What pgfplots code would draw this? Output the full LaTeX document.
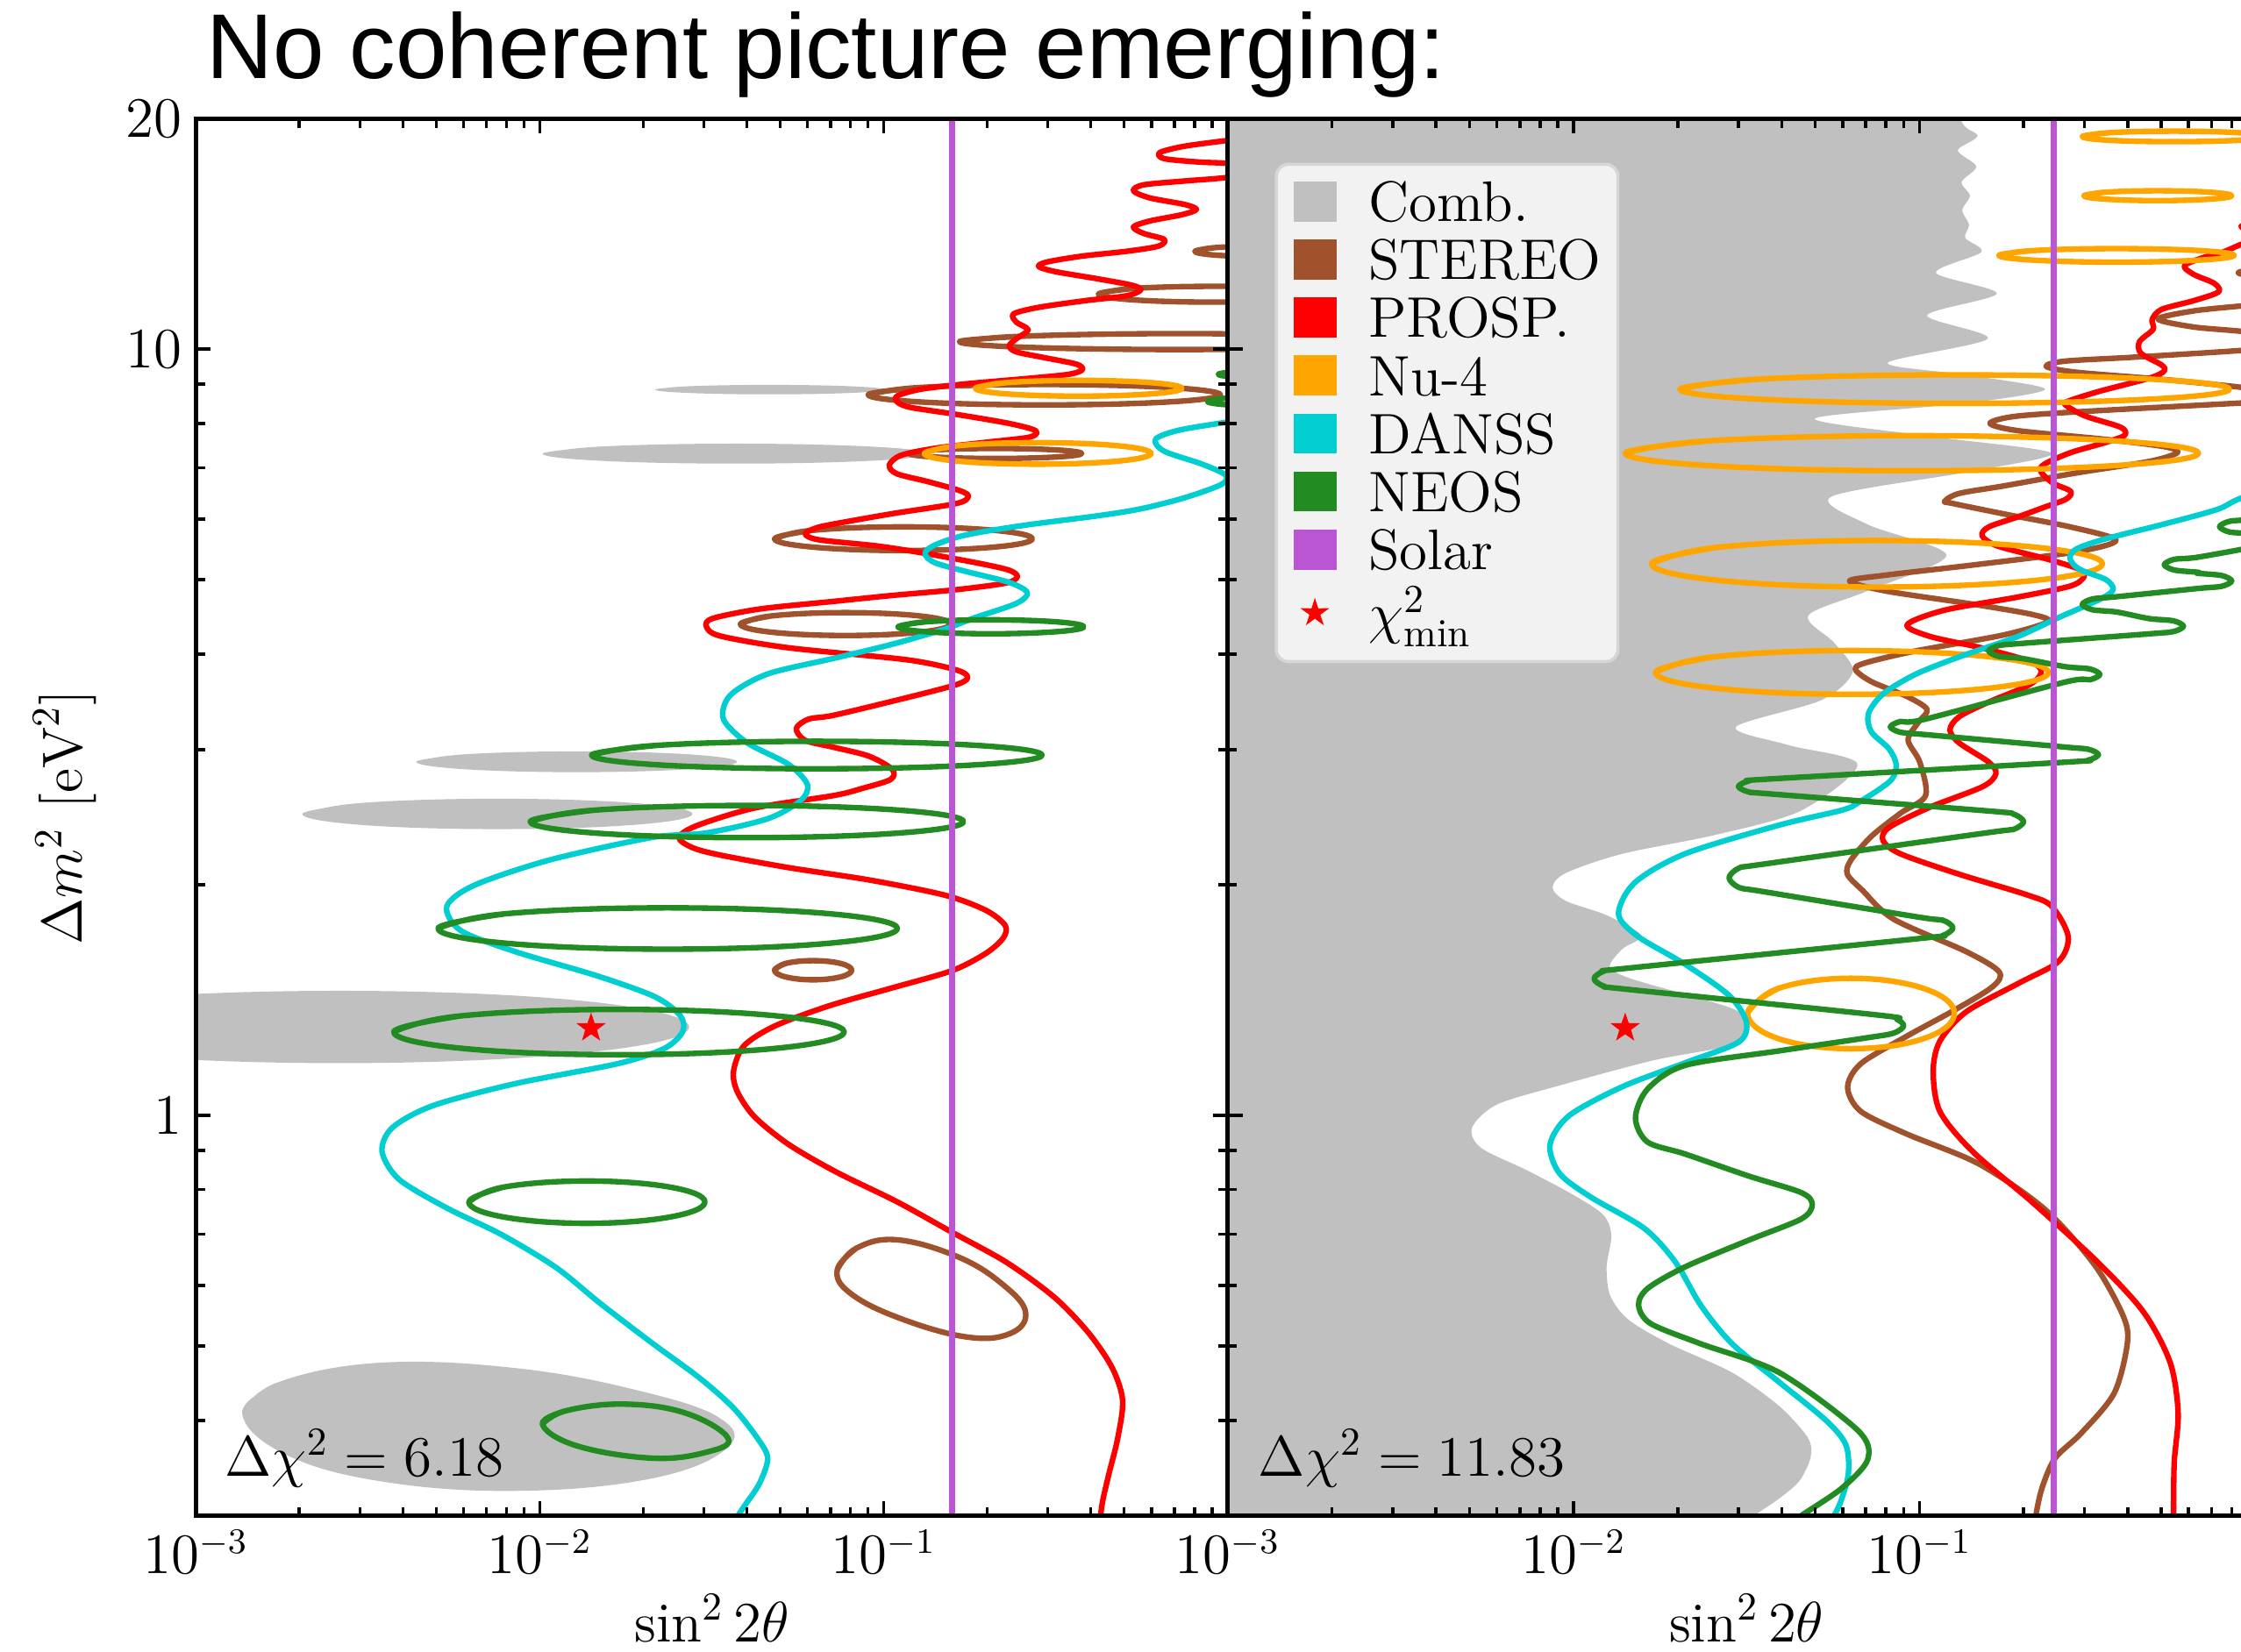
\documentclass[border=0pt]{standalone}
\usepackage{fontspec}
\newfontfamily\titlefont{Liberation Sans}
\usepackage{pgfplots}
\pgfplotsset{compat=1.18}

\definecolor{comb}{HTML}{C0C0C0}
\definecolor{stereo}{HTML}{A0522D}
\definecolor{prosp}{HTML}{FF0000}
\definecolor{nufour}{HTML}{FFA500}
\definecolor{danss}{HTML}{00CED1}
\definecolor{neos}{HTML}{228B22}
\definecolor{solar}{HTML}{BA55D3}
\definecolor{legfill}{HTML}{F2F2F2}
\definecolor{legedge}{HTML}{D6D6D6}

% filled five-pointed star for the best-fit point
\pgfdeclareplotmark{fstar}{%
  \pgfpathmoveto{\pgfqpoint{0pt}{3.9pt}}%
  \pgfpathlineto{\pgfqpoint{-0.911pt}{1.254pt}}%
  \pgfpathlineto{\pgfqpoint{-3.709pt}{1.205pt}}%
  \pgfpathlineto{\pgfqpoint{-1.474pt}{-0.479pt}}%
  \pgfpathlineto{\pgfqpoint{-2.292pt}{-3.155pt}}%
  \pgfpathlineto{\pgfqpoint{0pt}{-1.55pt}}%
  \pgfpathlineto{\pgfqpoint{2.292pt}{-3.155pt}}%
  \pgfpathlineto{\pgfqpoint{1.474pt}{-0.479pt}}%
  \pgfpathlineto{\pgfqpoint{3.709pt}{1.205pt}}%
  \pgfpathlineto{\pgfqpoint{0.911pt}{1.254pt}}%
  \pgfpathclose\pgfusepathqfill}

\pgfplotsset{
  every axis/.append style={
    scale only axis,
    axis line style={line width=1.1pt},
    tick align=inside,
    major tick length=3.8pt, minor tick length=2.3pt,
    tick style={black, line width=0.8pt},
    tick label style={font=\fontsize{13.5}{16}\selectfont},
    label style={font=\fontsize{14.2}{17}\selectfont},
  },
  every axis plot/.append style={line width=1.4pt, line join=round},
  ell/.style={smooth, tension=0.68},
  wig/.style={smooth, tension=0.5},
}

\begin{document}
\begin{tikzpicture}
\useasboundingbox (0,0) rectangle (564.48pt,416.16pt);
\clip (0,0) rectangle (564.48pt,416.16pt);

% ---------------- left panel: Delta chi^2 = 6.18 ----------------
\begin{axis}[xmode=log, ymode=log,
  at={(49.32pt,34.2pt)}, anchor=south west,
  width=259.92pt, height=352.08pt,
  xmin=1e-3, xmax=1, ymin=0.3, ymax=20,
  axis on top,
  xtick pos=both, ytick pos=both,
  xtick={0.001,0.01,0.1,1},
  xticklabels={$10^{-3}$,$10^{-2}$,$10^{-1}$,{}},
  minor xtick={0.002,0.003,0.004,0.005,0.006,0.007,0.008,0.009,0.02,0.03,0.04,0.05,0.06,0.07,0.08,0.09,0.2,0.3,0.4,0.5,0.6,0.7,0.8,0.9},
  ytick={1,10,20},
  minor ytick={0.4,0.5,0.6,0.7,0.8,0.9,2,3,4,5,6,7,8,9},
  yticklabels={$1$,$10$,$20$},
  xlabel={$\sin^2 2\theta$},
  xlabel style={at={(axis description cs:0.5,-0.090)}, anchor=base},
  ylabel={$\Delta m^2\ [\mathrm{eV}^2]$},
  ylabel style={at={(axis description cs:-0.127,0.5)}, anchor=center}]

% Comb.
\addplot[comb, fill=comb, draw=none, ell] coordinates {(0.02164,8.857) (0.02708,8.947) (0.04652,8.984) (0.07991,8.947) (0.1,8.857) (0.07991,8.768) (0.04652,8.732) (0.02708,8.768) (0.02164,8.857) (0.02708,8.947)};
\addplot[comb, fill=comb, draw=none, ell] coordinates {(0.01019,7.306) (0.01488,7.463) (0.03707,7.529) (0.09239,7.463) (0.1349,7.306) (0.09239,7.153) (0.03707,7.091) (0.01488,7.153) (0.01019,7.306) (0.01488,7.463)};
\addplot[comb, fill=comb, draw=none, ell] coordinates {(0.004374,2.894) (0.005989,2.959) (0.0128,2.986) (0.02733,2.959) (0.03745,2.894) (0.02733,2.831) (0.0128,2.805) (0.005989,2.831) (0.004374,2.894) (0.005989,2.959)};
\addplot[comb, fill=comb, draw=none, ell] coordinates {(0.002039,2.474) (0.00299,2.556) (0.007531,2.590) (0.01897,2.556) (0.0278,2.474) (0.01897,2.395) (0.007531,2.364) (0.00299,2.395) (0.002039,2.474) (0.00299,2.556)};
\addplot[comb, fill=comb, draw=none, ell] coordinates {(0.0002512,1.304) (0.000499,1.409) (0.002614,1.454) (0.01369,1.409) (0.02719,1.304) (0.01369,1.208) (0.002614,1.170) (0.000499,1.208) (0.0002512,1.304) (0.000499,1.409)};
\addplot[comb, fill=comb, draw=none, ell] coordinates {(0.001364,0.4088) (0.001714,0.4475) (0.003401,0.4754) (0.00848,0.468) (0.01931,0.4375) (0.0334,0.4026) (0.03497,0.3677) (0.02115,0.3358) (0.00848,0.3235) (0.003401,0.3333) (0.001795,0.3622) (0.001364,0.4088) (0.001714,0.4475)};

% STEREO
\addplot[stereo, ell] coordinates {(0.803,13.42) (0.918,13.57) (1.266,13.63) (1.746,13.57) (1.995,13.42) (1.746,13.27) (1.266,13.21) (0.918,13.27) (0.803,13.42) (0.918,13.57)};
\addplot[stereo, ell] coordinates {(0.4209,11.80) (0.5288,12.00) (0.9165,12.08) (1.589,12.00) (1.995,11.80) (1.589,11.60) (0.9165,11.52) (0.5288,11.60) (0.4209,11.80) (0.5288,12.00)};
\addplot[stereo, ell] coordinates {(0.166,10.23) (0.2557,10.40) (0.7245,10.48) (2.053,10.40) (3.162,10.23) (2.053,10.06) (0.7245,9.99) (0.2557,10.06) (0.166,10.23) (0.2557,10.40)};
\addplot[stereo, ell] coordinates {(0.09013,8.721) (0.1273,8.913) (0.2929,8.993) (0.6743,8.913) (0.9524,8.721) (0.6743,8.535) (0.2929,8.459) (0.1273,8.535) (0.09013,8.721) (0.1273,8.913)};
\addplot[stereo, ell] coordinates {(0.1186,7.311) (0.1404,7.389) (0.2112,7.421) (0.3178,7.389) (0.3765,7.311) (0.3178,7.234) (0.2112,7.202) (0.1404,7.234) (0.1186,7.311) (0.1404,7.389)};
\addplot[stereo, ell] coordinates {(0.04815,5.657) (0.06197,5.802) (0.1141,5.863) (0.2101,5.802) (0.2704,5.657) (0.2101,5.518) (0.1141,5.461) (0.06197,5.518) (0.04815,5.657) (0.06197,5.802)};
\addplot[stereo, ell] coordinates {(0.03832,4.378) (0.04709,4.486) (0.07745,4.531) (0.1274,4.486) (0.1565,4.378) (0.1274,4.273) (0.07745,4.230) (0.04709,4.273) (0.03832,4.378) (0.04709,4.486)};
\addplot[stereo, ell] coordinates {(0.04815,1.547) (0.05192,1.579) (0.06233,1.592) (0.07482,1.579) (0.0807,1.547) (0.07482,1.516) (0.06233,1.503) (0.05192,1.516) (0.04815,1.547) (0.05192,1.579)};
\addplot[stereo, ell] coordinates {(0.0733,0.629) (0.0833,0.671) (0.1096,0.688) (0.1653,0.653) (0.2225,0.601) (0.2586,0.553) (0.2328,0.519) (0.1730,0.514) (0.1096,0.545) (0.0796,0.587) (0.0733,0.629) (0.0833,0.671)};

% PROSP.
\addplot[prosp, wig] coordinates {(1.109,18.86) (1.006,18.74) (0.750,18.41) (0.635,18.06) (0.654,17.73) (0.827,17.55) (1.006,17.47) (1.223,17.17) (1.006,16.77) (0.750,16.58) (0.570,16.39) (0.532,16.10) (0.593,15.76) (0.750,15.45) (0.811,15.22) (0.735,14.98) (0.593,14.70) (0.532,14.44) (0.570,14.16) (0.654,13.91) (0.629,13.63) (0.507,13.42) (0.378,13.23) (0.299,13.00) (0.282,12.82) (0.317,12.62) (0.417,12.36) (0.527,12.12) (0.559,11.95) (0.507,11.74) (0.385,11.57) (0.282,11.34) (0.2385,11.12) (0.243,10.85) (0.263,10.60) (0.243,10.32) (0.2316,10.10) (0.243,9.92) (0.293,9.75) (0.3635,9.56) (0.378,9.40) (0.343,9.27) (0.2555,9.15) (0.1727,9.01) (0.1287,8.87) (0.110,8.70) (0.109,8.55) (0.119,8.40) (0.1628,8.22) (0.2316,8.00) (0.2763,7.83) (0.2657,7.68) (0.198,7.56) (0.142,7.43) (0.1122,7.27) (0.1038,7.06) (0.109,6.88) (0.1339,6.72) (0.166,6.54) (0.1762,6.43) (0.1628,6.29) (0.1058,6.10) (0.0716,5.914) (0.0633,5.84) (0.0591,5.74) (0.0648,5.64) (0.0960,5.535) (0.1313,5.416) (0.1905,5.252) (0.2316,5.147) (0.2446,5.049) (0.2271,4.953) (0.1628,4.855) (0.1058,4.771) (0.0716,4.687) (0.04395,4.583) (0.0319,4.454) (0.0305,4.348) (0.0334,4.225) (0.0528,4.077) (0.1167,3.933) (0.1628,3.814) (0.1754,3.731) (0.1628,3.650) (0.1167,3.509) (0.0716,3.329) (0.0605,3.291) (0.0557,3.199) (0.0591,3.087) (0.0716,3.023) (0.0905,2.944) (0.1058,2.830) (0.1048,2.745) (0.0870,2.673) (0.0716,2.615) (0.0420,2.518) (0.0285,2.387) (0.0254,2.304) (0.0278,2.236) (0.0334,2.187) (0.0528,2.106) (0.0913,2.028) (0.1509,1.938) (0.1984,1.852) (0.2255,1.770) (0.2225,1.704) (0.1984,1.628) (0.1579,1.545) (0.1047,1.465) (0.0694,1.390) (0.0482,1.308) (0.0392,1.232) (0.0366,1.142) (0.0375,1.075) (0.0420,0.997) (0.0528,0.917) (0.0726,0.844) (0.1096,0.771) (0.1579,0.704) (0.2275,0.643) (0.3133,0.579) (0.3937,0.5205) (0.462,0.468) (0.495,0.4245) (0.479,0.379) (0.452,0.341) (0.4315,0.311) (0.4217,0.284)};

% Nu-4
\addplot[nufour, ell] coordinates {(0.1849,8.892) (0.2263,9.043) (0.3687,9.106) (0.6006,9.043) (0.7355,8.892) (0.6006,8.745) (0.3687,8.685) (0.2263,8.745) (0.1849,8.892) (0.2263,9.043)};
\addplot[nufour, ell] coordinates {(0.1313,7.311) (0.1639,7.482) (0.2804,7.552) (0.4795,7.482) (0.5988,7.311) (0.4795,7.145) (0.2804,7.079) (0.1639,7.145) (0.1313,7.311) (0.1639,7.482)};

% DANSS
\addplot[danss, wig] coordinates {(1.223,8.17) (1.006,8.04) (0.721,7.84) (0.617,7.63) (0.654,7.36) (0.843,7.08) (0.986,6.85) (0.958,6.66) (0.750,6.40) (0.559,6.19) (0.417,6.06) (0.2555,5.89) (0.1727,5.72) (0.1406,5.55) (0.1318,5.41) (0.1406,5.266) (0.1727,5.13) (0.2316,4.962) (0.2615,4.812) (0.243,4.658) (0.1831,4.459) (0.1506,4.313) (0.1058,4.120) (0.0716,3.950) (0.0460,3.769) (0.0358,3.535) (0.0342,3.291) (0.0401,3.064) (0.0528,2.873) (0.0600,2.703) (0.0573,2.575) (0.0460,2.439) (0.0305,2.337) (0.02115,2.305) (0.01066,2.154) (0.00645,1.997) (0.00537,1.875) (0.00589,1.743) (0.00848,1.636) (0.01468,1.521) (0.02164,1.428) (0.02563,1.349) (0.0260,1.285) (0.02296,1.222) (0.01684,1.168) (0.00848,1.100) (0.00490,1.030) (0.00373,0.964) (0.00348,0.897) (0.00390,0.825) (0.00537,0.757) (0.00774,0.699) (0.01116,0.633) (0.01502,0.568) (0.02115,0.505) (0.02912,0.4544) (0.0366,0.415) (0.04295,0.379) (0.0460,0.357) (0.04355,0.331) (0.03973,0.311) (0.03627,0.293)};

% NEOS
\addplot[neos, ell] coordinates {(0.1101,4.342) (0.1320,4.407) (0.2049,4.434) (0.3181,4.407) (0.3816,4.342) (0.3181,4.279) (0.2049,4.252) (0.1320,4.279) (0.1101,4.342) (0.1320,4.407)};
\addplot[neos, ell] coordinates {(0.01415,2.953) (0.0220,3.041) (0.0639,3.078) (0.1855,3.041) (0.2886,2.953) (0.1855,2.868) (0.0639,2.834) (0.0220,2.868) (0.01415,2.953) (0.0220,3.041)};
\addplot[neos, ell] coordinates {(0.00938,2.418) (0.01434,2.502) (0.0400,2.538) (0.1116,2.502) (0.1707,2.418) (0.1116,2.337) (0.0400,2.304) (0.01434,2.337) (0.00938,2.418) (0.01434,2.502)};
\addplot[neos, ell] coordinates {(0.00506,1.754) (0.00794,1.833) (0.02355,1.866) (0.0698,1.833) (0.1096,1.754) (0.0698,1.678) (0.02355,1.648) (0.00794,1.678) (0.00506,1.754) (0.00794,1.833)};
\addplot[neos, ell] coordinates {(0.003762,1.285) (0.005851,1.348) (0.01699,1.375) (0.04933,1.348) (0.07674,1.285) (0.04933,1.224) (0.01699,1.200) (0.005851,1.224) (0.003762,1.285) (0.005851,1.348)};
\addplot[neos, ell] coordinates {(0.006219,0.771) (0.00784,0.806) (0.01371,0.821) (0.02397,0.806) (0.03021,0.771) (0.02397,0.737) (0.01371,0.723) (0.00784,0.737) (0.006219,0.771) (0.00784,0.806)};
\addplot[neos, ell] coordinates {(0.01018,0.3954) (0.01195,0.4117) (0.01762,0.4199) (0.02659,0.4086) (0.03528,0.379) (0.0305,0.3634) (0.02115,0.357) (0.0128,0.3705) (0.01018,0.3954) (0.01195,0.4117)};
\addplot[neos, ell] coordinates {(0.9393,9.275) (1.049,9.350) (1.369,9.383) (1.787,9.350) (1.995,9.275) (1.787,9.200) (1.369,9.168) (1.049,9.200) (0.9393,9.275) (1.049,9.350)};
\addplot[neos, ell] coordinates {(0.8736,8.547) (0.9858,8.630) (1.320,8.666) (1.768,8.630) (1.995,8.547) (1.768,8.465) (1.320,8.430) (0.9858,8.465) (0.8736,8.547) (0.9858,8.630)};

% Solar
\addplot[solar, line width=1.6pt] coordinates {(0.158,0.3) (0.158,20)};
% chi^2 min
\addplot[only marks, mark=fstar, prosp] coordinates {(0.0141,1.30)};
\end{axis}

% ---------------- right panel: Delta chi^2 = 11.83 ----------------
\begin{axis}[xmode=log, ymode=log,
  at={(309.24pt,34.2pt)}, anchor=south west,
  width=261.36pt, height=352.08pt,
  xmin=1e-3, xmax=1, ymin=0.3, ymax=20,
  axis on top,
  xtick pos=both, ytick pos=both,
  xtick={0.001,0.01,0.1,1},
  xticklabels={$10^{-3}$,$10^{-2}$,$10^{-1}$,{}},
  minor xtick={0.002,0.003,0.004,0.005,0.006,0.007,0.008,0.009,0.02,0.03,0.04,0.05,0.06,0.07,0.08,0.09,0.2,0.3,0.4,0.5,0.6,0.7,0.8,0.9},
  ytick={1,10,20},
  minor ytick={0.4,0.5,0.6,0.7,0.8,0.9,2,3,4,5,6,7,8,9},
  yticklabels={,,},
  xlabel={$\sin^2 2\theta$},
  xlabel style={at={(axis description cs:0.5,-0.090)}, anchor=base}]

% Comb.
\addplot[comb, fill=comb, draw=none, wig] coordinates {(0.0005,25) (0.1317,25) (0.1317,20.0) (0.1472,18.99) (0.1291,18.18) (0.1460,17.32) (0.1324,16.53) (0.1399,15.86) (0.1330,15.19) (0.1391,14.53) (0.1356,13.97) (0.1509,13.39) (0.1116,12.58) (0.1674,11.82) (0.1052,11.07) (0.1575,10.32) (0.0809,9.60) (0.1365,9.26) (0.2309,8.869) (0.1365,8.50) (0.0498,8.12) (0.1096,7.69) (0.2412,7.316) (0.1365,6.91) (0.0556,6.42) (0.0708,5.906) (0.1197,5.383) (0.0708,4.837) (0.0477,4.491) (0.0568,4.135) (0.0642,3.796) (0.0521,3.484) (0.02944,3.213) (0.0418,3.043) (0.0662,2.873) (0.0455,2.499) (0.0259,2.325) (0.01384,2.195) (0.0095,2.072) (0.0087,1.984) (0.0095,1.905) (0.01246,1.825) (0.01569,1.718) (0.01384,1.649) (0.01273,1.564) (0.01442,1.512) (0.0210,1.439) (0.02937,1.373) (0.03192,1.305) (0.02875,1.236) (0.01705,1.180) (0.00911,1.094) (0.0060,1.033) (0.00509,0.964) (0.0054,0.907) (0.00739,0.8465) (0.01011,0.785) (0.01221,0.741) (0.01286,0.697) (0.01246,0.634) (0.01277,0.5815) (0.01442,0.5411) (0.01892,0.5033) (0.02875,0.4616) (0.03935,0.4173) (0.0475,0.380) (0.04849,0.3585) (0.04506,0.3337) (0.03935,0.3163) (0.03328,0.3003) (0.02936,0.2867) (0.02,0.27) (0.0005,0.27)};

% STEREO
\addplot[stereo, wig] coordinates {(1.114,12.91) (0.835,12.58) (1.114,12.25) (1.114,11.51) (0.8564,11.39) (0.6208,11.22) (0.4895,10.95) (0.6208,10.69) (0.8564,10.55) (1.114,10.37) (1.114,10.10) (0.8564,9.965) (0.4202,9.765) (0.2631,9.647) (0.2326,9.495) (0.2844,9.331) (0.5107,9.129) (0.8564,8.915) (1.114,8.737) (1.114,8.584) (0.8564,8.509) (0.3457,8.325) (0.1926,8.181) (0.16,8.004) (0.1926,7.830) (0.3457,7.627) (0.5107,7.461) (0.5576,7.331) (0.4634,7.141) (0.2844,6.895) (0.1747,6.629) (0.1304,6.484) (0.1183,6.333) (0.1254,6.288) (0.1747,6.098) (0.2736,5.861) (0.3701,5.633) (0.2844,5.440) (0.1438,5.230) (0.0801,5.072) (0.0628,4.983) (0.0801,4.834) (0.1438,4.645) (0.2123,4.505) (0.2350,4.408) (0.1747,4.236) (0.0973,4.037) (0.0698,3.897) (0.0653,3.820) (0.0726,3.683) (0.0918,3.524) (0.1052,3.388) (0.0992,3.257) (0.0927,3.090) (0.1002,2.892) (0.1042,2.615) (0.0883,2.481) (0.0726,2.313) (0.0633,2.152) (0.0619,2.064) (0.0685,1.966) (0.0843,1.803) (0.1365,1.636) (0.1699,1.540) (0.1627,1.472) (0.1251,1.369) (0.0920,1.269) (0.0677,1.168) (0.0620,1.088) (0.0677,1.012) (0.0920,0.9454) (0.1490,0.8636) (0.2309,0.7536) (0.3208,0.6383) (0.3873,0.5487) (0.3993,0.5048) (0.3658,0.4341) (0.2938,0.3849) (0.2466,0.3568) (0.2259,0.3258) (0.2163,0.2976) (0.214,0.28)};

% PROSP.
\addplot[prosp, wig] coordinates {(1.114,14.85) (0.8514,14.47) (1.011,14.09) (0.8564,13.72) (0.7546,13.39) (0.6578,13.16) (0.5833,12.85) (0.6208,12.52) (0.7114,12.19) (0.7326,11.88) (0.6208,11.57) (0.5008,11.27) (0.4707,10.93) (0.4742,10.62) (0.4327,10.23) (0.4369,9.879) (0.5008,9.539) (0.5107,9.372) (0.4634,9.170) (0.3325,8.816) (0.2710,8.564) (0.2642,8.460) (0.3016,8.181) (0.3812,7.913) (0.3925,7.727) (0.3457,7.558) (0.2736,7.330) (0.2296,7.078) (0.2243,6.925) (0.2433,6.687) (0.2736,6.525) (0.2657,6.374) (0.2296,6.220) (0.1926,6.042) (0.1585,5.861) (0.1518,5.709) (0.1680,5.537) (0.2340,5.322) (0.2901,5.161) (0.2992,5.049) (0.2736,4.909) (0.1926,4.748) (0.1183,4.565) (0.0921,4.369) (0.1073,4.218) (0.1524,4.072) (0.2083,3.915) (0.2252,3.796) (0.2083,3.650) (0.1585,3.463) (0.1303,3.314) (0.1225,3.186) (0.1303,3.063) (0.1585,2.892) (0.1664,2.793) (0.1524,2.686) (0.1073,2.525) (0.0816,2.375) (0.0785,2.283) (0.0883,2.194) (0.1303,2.064) (0.2042,1.941) (0.2412,1.875) (0.2692,1.712) (0.2521,1.587) (0.1938,1.488) (0.1365,1.365) (0.1146,1.250) (0.1096,1.142) (0.1146,1.012) (0.1425,0.897) (0.2116,0.771) (0.3280,0.643) (0.4455,0.553) (0.5310,0.4755) (0.5597,0.4088) (0.5452,0.3514) (0.5427,0.2976) (0.542,0.28)};

% Nu-4
\addplot[nufour, ell] coordinates {(0.2958,18.95) (0.3535,19.17) (0.5438,19.26) (0.8366,19.17) (1.0,18.95) (0.8366,18.74) (0.5438,18.66) (0.3535,18.74) (0.2958,18.95) (0.3535,19.17)};
\addplot[nufour, ell] coordinates {(0.2987,15.86) (0.345,16.03) (0.489,16.10) (0.6923,16.03) (0.7998,15.86) (0.6923,15.70) (0.489,15.63) (0.345,15.70) (0.2987,15.86) (0.345,16.03)};
\addplot[nufour, ell] coordinates {(0.1697,13.26) (0.2134,13.45) (0.3713,13.53) (0.6459,13.45) (0.8124,13.26) (0.6459,13.07) (0.3713,12.99) (0.2134,13.07) (0.1697,13.26) (0.2134,13.45)};
\addplot[nufour, ell] coordinates {(0.02029,8.869) (0.03468,9.143) (0.1264,9.258) (0.4608,9.143) (0.7875,8.869) (0.4608,8.604) (0.1264,8.498) (0.03468,8.604) (0.02029,8.869) (0.03468,9.143)};
\addplot[nufour, ell] coordinates {(0.0141,7.316) (0.02467,7.594) (0.09508,7.712) (0.3664,7.594) (0.641,7.316) (0.3664,7.048) (0.09508,6.94) (0.02467,7.048) (0.0141,7.316) (0.02467,7.594)};
\addplot[nufour, ell] coordinates {(0.0168,5.248) (0.02609,5.514) (0.07539,5.628) (0.2178,5.514) (0.3381,5.248) (0.2178,4.994) (0.07539,4.893) (0.02609,4.994) (0.0168,5.248) (0.02609,5.514)};
\addplot[nufour, ell] coordinates {(0.01725,3.786) (0.02531,3.966) (0.06381,4.043) (0.1609,3.966) (0.236,3.786) (0.1609,3.613) (0.06381,3.545) (0.02531,3.613) (0.01725,3.786) (0.02531,3.966)};
\addplot[nufour, ell] coordinates {(0.03186,1.359) (0.03898,1.464) (0.06339,1.510) (0.1031,1.464) (0.1262,1.359) (0.1031,1.260) (0.06339,1.222) (0.03898,1.260) (0.03186,1.359) (0.03898,1.464)};

% DANSS
\addplot[danss, wig] coordinates {(1.354,6.865) (0.8564,6.40) (0.7257,6.178) (0.5107,5.914) (0.3457,5.657) (0.2844,5.487) (0.2725,5.331) (0.2901,5.162) (0.3457,5.005) (0.3631,4.854) (0.3324,4.716) (0.2531,4.466) (0.1926,4.218) (0.1303,3.967) (0.0973,3.764) (0.0785,3.549) (0.0712,3.344) (0.0726,3.167) (0.0816,3.010) (0.0857,2.868) (0.0824,2.733) (0.0672,2.566) (0.0598,2.503) (0.0394,2.393) (0.0210,2.195) (0.01504,2.013) (0.01349,1.832) (0.01536,1.712) (0.0210,1.575) (0.02816,1.434) (0.03159,1.324) (0.02997,1.246) (0.0210,1.171) (0.01384,1.090) (0.0097,0.999) (0.00855,0.916) (0.00911,0.840) (0.01123,0.782) (0.01602,0.712) (0.01973,0.643) (0.02333,0.565) (0.02875,0.5033) (0.03935,0.4484) (0.05383,0.3995) (0.06127,0.3716) (0.06231,0.3408) (0.05912,0.3126) (0.05555,0.2951) (0.053,0.28)};

% NEOS (hairpins above, smooth oscillation below)
\addplot[neos, wig] coordinates {(1.259,6.166)
 (0.9286,6.004) (0.7891,5.963) (0.7376,5.867) (0.7891,5.772) (0.9286,5.733)
 (1.0,5.572)
 (0.6426,5.355) (0.5460,5.319) (0.5104,5.233) (0.5460,5.149) (0.6426,5.114)
 (0.6353,5.100) (0.7476,5.066) (0.7998,4.984) (0.7476,4.904) (0.6353,4.871)
 (0.3724,4.753) (0.3164,4.721) (0.2958,4.645) (0.3164,4.570) (0.3724,4.539)
 (0.4606,4.451) (0.5421,4.421) (0.5799,4.350) (0.5421,4.280) (0.4606,4.251)
 (0.1995,4.132) (0.1696,4.104) (0.1585,4.038) (0.1696,3.973) (0.1995,3.946)
 (0.2640,3.852) (0.3107,3.826) (0.3324,3.764) (0.3107,3.703) (0.2640,3.678)
 (0.1037,3.289) (0.0882,3.267) (0.0824,3.214) (0.0882,3.162) (0.1037,3.141)
 (0.2616,3.026) (0.3078,3.005) (0.3293,2.957) (0.3078,2.909) (0.2616,2.890)
 (0.03773,2.750) (0.03206,2.731) (0.02997,2.687) (0.03206,2.644) (0.03773,2.626)
 (0.1589,2.496) (0.1870,2.473) (0.2001,2.417) (0.1870,2.362) (0.1589,2.340)
 (0.03544,2.128) (0.03012,2.103) (0.02815,2.042) (0.03012,1.983) (0.03544,1.959)
 (0.0993,1.815) (0.1168,1.798) (0.1250,1.757) (0.1168,1.717) (0.0993,1.701)
 (0.01443,1.557) (0.01226,1.543) (0.01146,1.508) (0.01226,1.474) (0.01443,1.460)
 (0.0758,1.352) (0.0860,1.335) (0.09001,1.308) (0.0840,1.280) (0.0700,1.262)
 (0.03935,1.214) (0.0210,1.162) (0.01636,1.082) (0.01510,0.9922) (0.01636,0.923) (0.0210,0.8905)
 (0.03192,0.834) (0.04555,0.793) (0.04899,0.765) (0.04555,0.7326) (0.03192,0.6866) (0.0210,0.6342)
 (0.01636,0.5943) (0.01542,0.5651) (0.01670,0.5349) (0.02333,0.5033) (0.03935,0.4616)
 (0.06634,0.3881) (0.07092,0.3559) (0.05976,0.3264) (0.0455,0.3003) (0.03935,0.2867)};

% Solar
\addplot[solar, line width=1.6pt] coordinates {(0.244,0.3) (0.244,20)};
% chi^2 min
\addplot[only marks, mark=fstar, prosp] coordinates {(0.0141,1.30)};
\end{axis}

% ---------------- title, labels, legend (pixel grid of the reference) ----------------
\begin{scope}[x=0.36pt, y=-0.36pt, yshift=416.16pt]
\node[anchor=base west, inner sep=0pt, font=\titlefont\fontsize{23.2}{28}\selectfont] at (144,55) {No coherent picture emerging:};
\node[anchor=base west, inner sep=0pt, font=\fontsize{14.3}{17}\selectfont] at (157,1033) {$\Delta\chi^2 = 6.18$};
\node[anchor=base west, inner sep=0pt, font=\fontsize{14.3}{17}\selectfont] at (880,1033) {$\Delta\chi^2 = 11.83$};

\draw[legedge, fill=legfill, line width=0.8pt, rounded corners=3pt] (893,115) rectangle (1132,463);
\begin{scope}[every node/.style={anchor=base west, inner sep=0pt, font=\fontsize{14.4}{17}\selectfont}]
\fill[comb]   (905,127.0) rectangle (935,155.0); \node at (957,155.0) {Comb.};
\fill[stereo] (905,167.6) rectangle (935,195.6); \node at (957,195.6) {STEREO};
\fill[prosp]  (905,208.2) rectangle (935,236.2); \node at (957,236.2) {PROSP.};
\fill[nufour] (905,248.8) rectangle (935,276.8); \node at (957,276.8) {Nu-4};
\fill[danss]  (905,289.4) rectangle (935,317.4); \node at (957,317.4) {DANSS};
\fill[neos]   (905,330.0) rectangle (935,358.0); \node at (957,358.0) {NEOS};
\fill[solar]  (905,370.6) rectangle (935,398.6); \node at (957,398.6) {Solar};
\fill[prosp] (920,418.4) -- (917.65,425.76) -- (909.92,425.72) -- (916.2,430.24) -- (913.77,437.58) -- (920,433) -- (926.23,437.58) -- (923.8,430.24) -- (930.08,425.72) -- (922.35,425.76) -- cycle;
\node at (957,443) {$\chi^2_{\mathrm{min}}$};
\end{scope}
\end{scope}
\end{tikzpicture}
\end{document}
